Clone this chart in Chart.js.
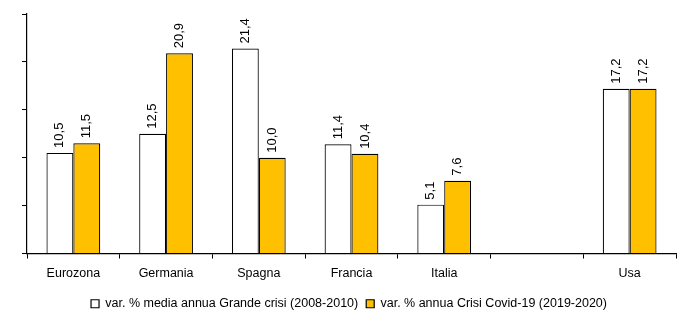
<!DOCTYPE html>
<html>
<head>
<meta charset="utf-8">
<script src="https://cdn.jsdelivr.net/npm/chart.js@4"></script>
<style>
  html, body { margin: 0; padding: 0; background: #fff; }
  #wrap { width: 700px; height: 325px; }
</style>
</head>
<body>
<div id="wrap"><canvas id="chart"></canvas></div>
<script>
const categories = ['Eurozona', 'Germania', 'Spagna', 'Francia', 'Italia', '', 'Usa'];
const grandeCrisi = [10.5, 12.5, 21.4, 11.4, 5.1, null, 17.2];
const crisiCovid = [11.5, 20.9, 10.0, 10.4, 7.6, null, 17.2];
const yTicks = [0, 5, 10, 15, 20, 25];

const FONT = '"Liberation Sans Narrow", "Arial Narrow", "Liberation Sans", Arial, sans-serif';

// Draw the values rotated above each bar, with a comma as decimal mark
const barLabels = {
    id: 'barLabels',
    afterDatasetsDraw(chart) {
        const ctx = chart.ctx;
        ctx.save();
        ctx.font = '13px ' + FONT;
        ctx.fillStyle = '#000';
        ctx.textAlign = 'left';
        ctx.textBaseline = 'middle';
        chart.data.datasets.forEach((ds, i) => {
            chart.getDatasetMeta(i).data.forEach((bar, j) => {
                const v = ds.data[j];
                if (v === null) return;
                ctx.save();
                ctx.translate(bar.x, bar.y - 5);
                ctx.rotate(-Math.PI / 2);
                ctx.fillText(v.toFixed(1).replace('.', ','), 0, 0);
                ctx.restore();
            });
        });
        ctx.restore();
    }
};

new Chart(document.getElementById('chart'), {
    type: 'bar',
    data: {
        labels: categories,
        datasets: [{
            label: 'var. % media annua Grande crisi (2008-2010)',
            data: grandeCrisi,
            backgroundColor: '#ffffff',
            borderColor: '#000000',
            borderWidth: 1.2
        }, {
            label: 'var. % annua Crisi Covid-19 (2019-2020)',
            data: crisiCovid,
            backgroundColor: '#ffc000',
            borderColor: '#000000',
            borderWidth: 1.2
        }]
    },
    options: {
        responsive: true,
        maintainAspectRatio: false,
        animation: false,
        layout: { padding: { left: 22, right: 24, top: 14, bottom: 5 } },
        datasets: { bar: { categoryPercentage: 0.58, barPercentage: 1 } },
        scales: {
            x: {
                border: { color: '#000', width: 1.2 },
                grid: { display: true, drawOnChartArea: false, drawTicks: true, tickLength: 5, color: '#000', offset: true },
                ticks: { color: '#000', font: { family: FONT, size: 12.5 }, padding: 8, maxRotation: 0 }
            },
            y: {
                min: 0,
                max: 25,
                afterBuildTicks: scale => { scale.ticks = yTicks.map(v => ({ value: v })); },
                border: { color: '#000', width: 1.2 },
                grid: { display: true, drawOnChartArea: false, drawTicks: true, tickLength: 5, color: '#000' },
                ticks: { display: false }
            }
        },
        plugins: {
            legend: {
                position: 'bottom',
                labels: {
                    color: '#000',
                    font: { family: FONT, size: 12.5 },
                    boxWidth: 8,
                    boxHeight: 8,
                    padding: 8
                }
            },
            tooltip: { enabled: false }
        }
    },
    plugins: [barLabels]
});
</script>
</body>
</html>
